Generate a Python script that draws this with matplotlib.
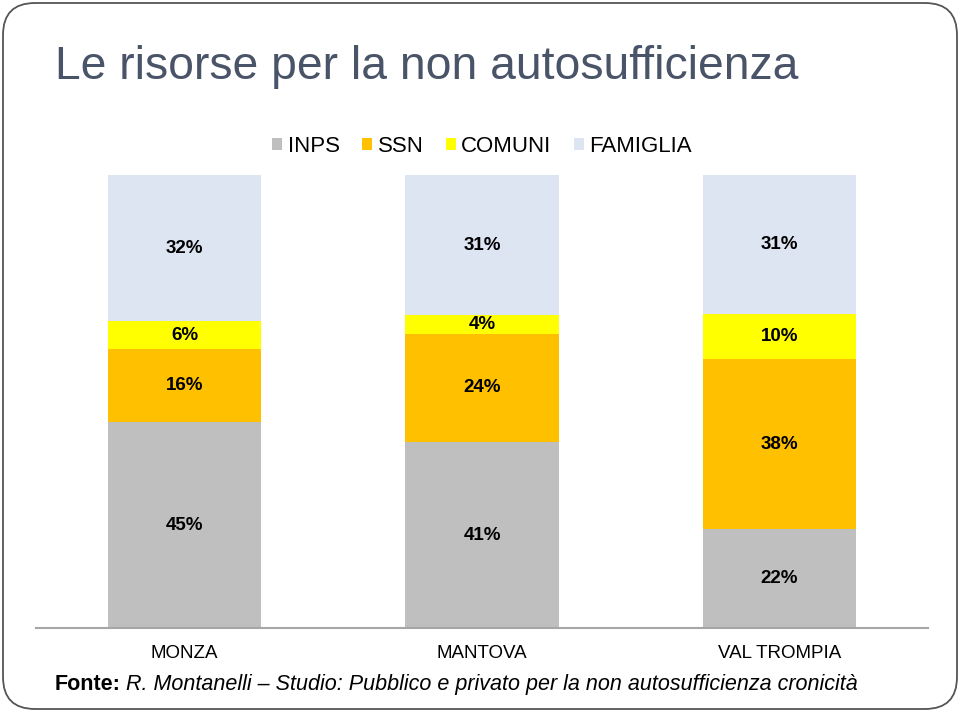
import numpy as np
import matplotlib.pyplot as plt
from matplotlib.patches import FancyBboxPatch

plt.rcParams['font.family'] = ['Liberation Sans', 'DejaVu Sans']

places = ["MONZA", "MANTOVA", "VAL TROMPIA"]
series = ["INPS", "SSN", "COMUNI", "FAMIGLIA"]
inps = [45, 41, 22]
ssn = [16, 24, 38]
comuni = [6, 4, 10]
famiglia = [32, 31, 31]
colors = ["#bfbfbf", "#ffc000", "#ffff00", "#dde4f2"]

values = np.array([inps, ssn, comuni, famiglia], dtype=float)
# 100% stacked: each column is normalised to its total
shares = values / values.sum(axis=0) * 100

fig = plt.figure(figsize=(9.6, 7.12), dpi=100)
ax = fig.add_axes([36 / 960, 1 - 628 / 712, 892 / 960, 453 / 712])

x = np.arange(len(places))
bottom = np.zeros(len(places))
for name, vals, share, col in zip(series, values, shares, colors):
    ax.bar(x, share, width=0.515, bottom=bottom, color=col, label=name)
    for xi, b, s, v in zip(x, bottom, share, vals):
        ax.text(xi, b + s / 2, f"{int(v)}%", ha="center", va="center",
                fontsize=13.5, fontweight="bold", color="black")
    bottom += share

ax.set_xlim(-0.5, 2.5)
ax.set_ylim(0, 100)
ax.set_xticks(x)
ax.set_xticklabels(places, fontsize=13.5)
ax.tick_params(axis="x", length=0, pad=12)
ax.set_yticks([])
for side in ["top", "left", "right"]:
    ax.spines[side].set_visible(False)
ax.spines["bottom"].set_color("#a6a6a6")
ax.spines["bottom"].set_linewidth(1.5)

fig.legend(loc="center", bbox_to_anchor=(482 / 960, 1 - 146 / 712), ncol=4,
           frameon=False, fontsize=16, handlelength=0.45, handleheight=0.45,
           handletextpad=0.25, columnspacing=1.0)

fig.text(55 / 960, 1 - 67 / 712, "Le risorse per la non autosufficienza",
         fontsize=33.3, color="#4a5468", va="center", ha="left")

t1 = fig.text(55 / 960, 1 - 695 / 712, "Fonte:", fontsize=15.5, fontweight="bold",
              va="bottom", ha="left")
ax.annotate("R. Montanelli \u2013 Studio: Pubblico e privato per la non autosufficienza cronicit\u00e0",
            xy=(1, 0), xycoords=t1, xytext=(4, 0), textcoords="offset points",
            va="bottom", ha="left", fontsize=15.5, fontstyle="italic",
            annotation_clip=False)

border = FancyBboxPatch((0.03, 0.03), 9.54, 7.06, boxstyle="round,pad=0,rounding_size=0.32",
                        transform=fig.dpi_scale_trans, fill=False, edgecolor="#555555",
                        linewidth=1.3)
fig.patches.append(border)

fig.savefig("out.png", dpi=100)
